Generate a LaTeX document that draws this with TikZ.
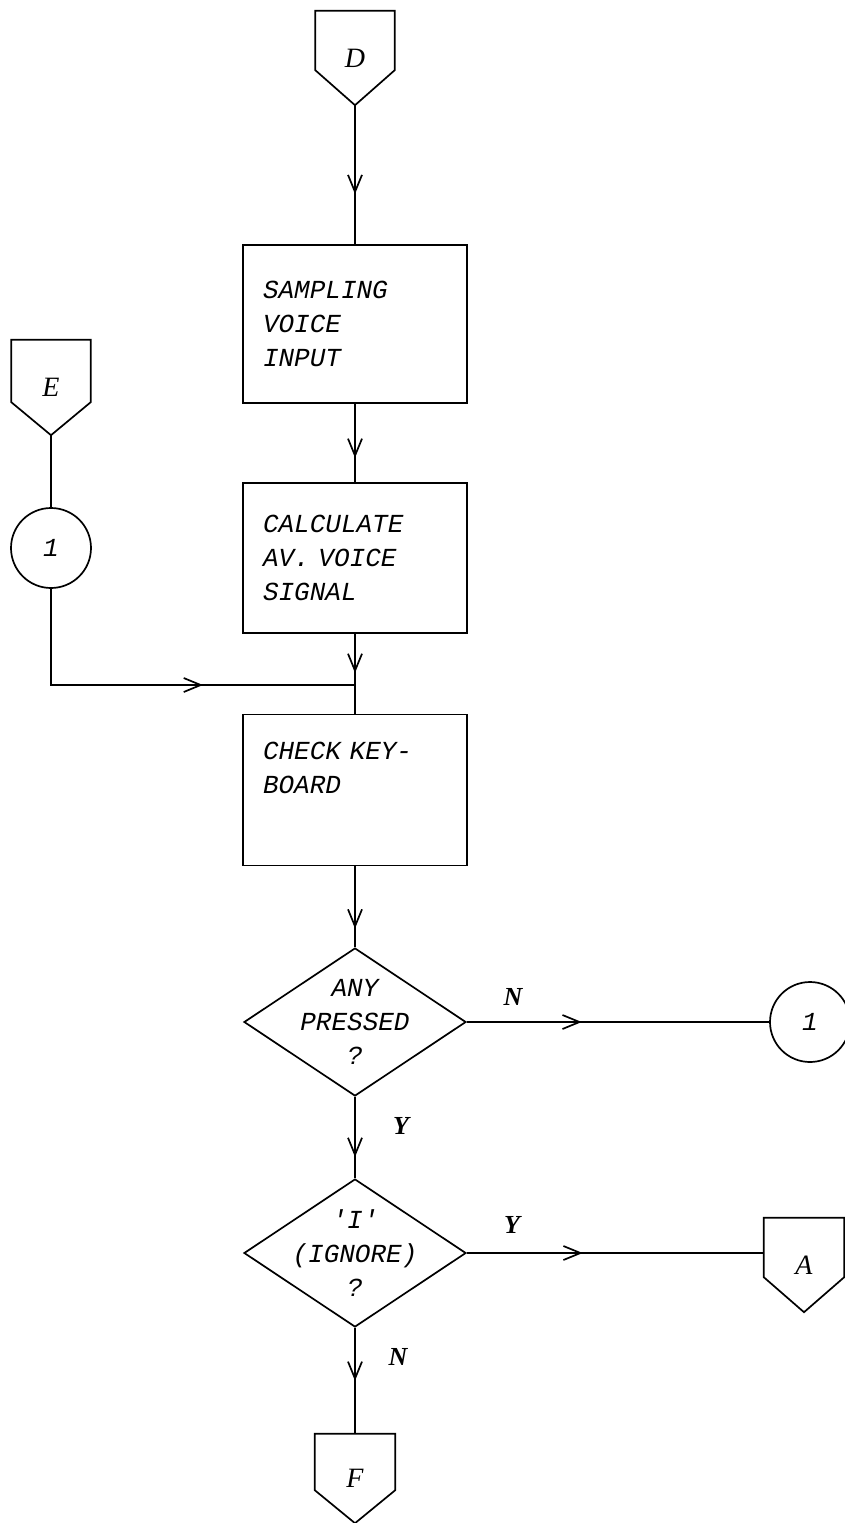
\documentclass[tikz,border=0pt]{standalone}
\usepackage{fontspec}
\setmainfont{Liberation Serif}
\setmonofont{Liberation Mono}
\usetikzlibrary{shapes.geometric,arrows.meta,decorations.markings}
\newcommand\pentout[2]{\draw[ln] (#1.north west) -- (#1.north east) -- ([yshift=#2]#1.south east) -- (#1.south) -- ([yshift=#2]#1.south west) -- cycle;}
\begin{document}
\begin{tikzpicture}[x=1pt,y=-1pt,
  ln/.style={line width=1.7pt, line join=miter},
  tw/.style={font=\fontsize{26}{34}\selectfont\ttfamily\itshape},
  stepbox/.style={ln, draw, rectangle, minimum width=224pt, text width=184pt, inner xsep=20pt, inner ysep=0pt, align=left, tw},
  decbox/.style={ln, draw, diamond, minimum width=222pt, minimum height=148pt, inner sep=-45pt, align=center, tw},
  conn/.style={ln, draw, circle, minimum size=80pt, inner sep=0pt, tw},
  penta/.style={minimum width=79pt, inner sep=0pt, font=\fontsize{28}{28}\selectfont\itshape},
  yn/.style={font=\fontsize{26}{26}\selectfont\bfseries\itshape},
  arrowat/.style={postaction={decorate, decoration={markings, mark=at position #1 with {\arrow{Straight Barb[length=17pt,width=14pt]}}}}}
]
\useasboundingbox (0,0) rectangle (845,1523);

% connectors (off-page)
\node[penta, minimum height=94pt] (D) at (355,58) {D};
\pentout{D}{35pt}
\node[penta, minimum height=95pt] (E) at (51,387.5) {E};
\pentout{E}{33pt}
\node[penta, minimum height=94pt, minimum width=80pt] (A) at (804,1265) {A};
\pentout{A}{35pt}
\node[penta, minimum height=89pt, minimum width=80pt] (F) at (355,1478.5) {F};
\pentout{F}{33pt}

% on-page connectors
\node[conn] (c1) at (51,548) {1};
\node[conn] (c2) at (810,1022) {1};

% process boxes
\node[stepbox, minimum height=158pt] (b1) at (355,324) {SAMPLING\\VOICE\\INPUT};
\node[stepbox, minimum height=150pt] (b2) at (355,558) {CALCULATE\\AV. VOICE\\SIGNAL};
\node[stepbox, minimum height=151pt] (b3) at (355,790) {CHECK KEY-\\BOARD\\\strut};

% decisions
\node[decbox] (d1) at (355,1022) {ANY\\PRESSED\\?};
\node[decbox] (d2) at (355,1253) {'I'\\(IGNORE)\\?};

% branch labels
\node[yn] (nN1) at (513,997) {N};
\node[yn] (nY1) at (401,1126) {Y};
\node[yn] (nY2) at (512,1225) {Y};
\node[yn] (nN2) at (398,1357) {N};

\coordinate (join) at (355,685);

\draw[ln, arrowat=0.64] (D.south) -- (b1.north);
\draw[ln, arrowat=0.69] (b1.south) -- (b2.north);
\draw[ln, arrowat=0.49] (b2.south) -- (b3.north);
\draw[ln] (E.south) -- (c1.north);
\draw[ln, arrowat=0.62] (c1.south) |- (join);
\draw[ln, arrowat=0.77] (b3.south) -- (d1.north);
\draw[ln, arrowat=0.38] (d1.east) -- (c2.west);
\draw[ln, arrowat=0.74] (d1.south) -- (d2.north);
\draw[ln, arrowat=0.39] (d2.east) -- (d2.east -| A.west);
\draw[ln, arrowat=0.5] (d2.south) -- (F.north);
\end{tikzpicture}
\end{document}
